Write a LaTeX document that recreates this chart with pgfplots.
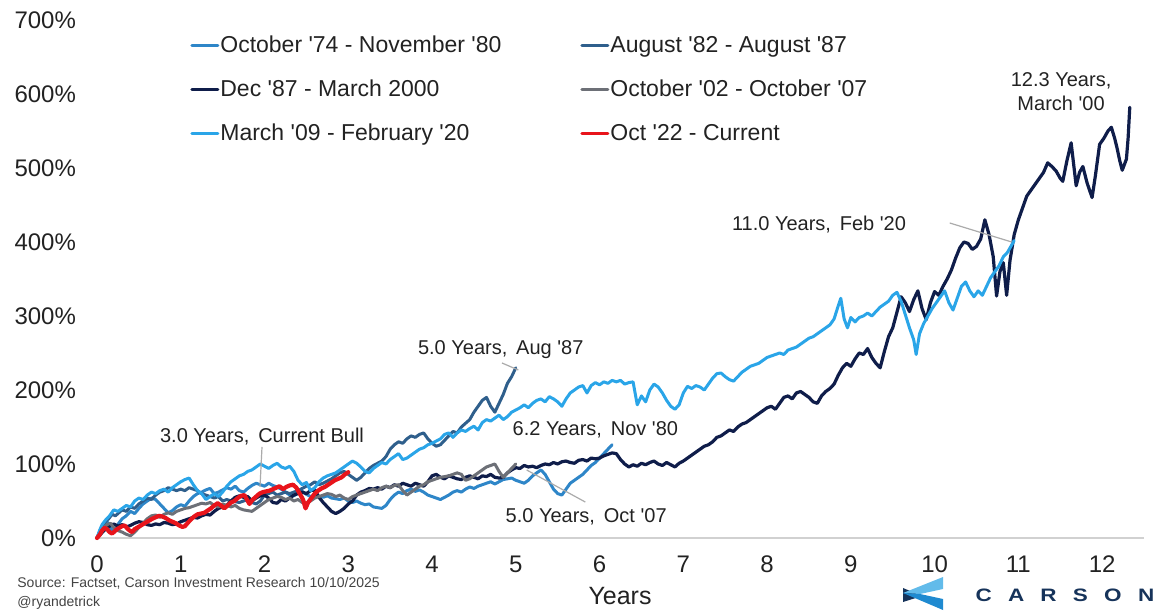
\documentclass[border=0pt]{standalone}
\usepackage{fontspec}
\setmainfont{Liberation Sans}
\usepackage{pgfplots}
\pgfplotsset{compat=1.18}
\definecolor{c74}{HTML}{2E86C8}
\definecolor{c82}{HTML}{2F5F8C}
\definecolor{c87}{HTML}{0F1D4A}
\definecolor{c02}{HTML}{6D7077}
\definecolor{c09}{HTML}{2AA5E8}
\definecolor{c22}{HTML}{E8141B}
\definecolor{leader}{HTML}{ABABAB}
\definecolor{txt}{HTML}{222222}
\definecolor{logoL}{HTML}{62BBEA}
\definecolor{logoM}{HTML}{1F8AD0}
\definecolor{logoD}{HTML}{16335A}
\newcommand\ls{\rule[-2.5pt]{0pt}{11pt}}
\newcommand\q{\textquotesingle}
\begin{document}
\begin{tikzpicture}
\useasboundingbox (-48.5pt,-36pt) rectangle (532pt,269pt);
\begin{axis}[
  at={(0,0)}, anchor=south west,
  scale only axis, width=523.5pt, height=259pt,
  xmin=0, xmax=12.5, ymin=0, ymax=700,
  axis x line=bottom, axis y line=left,
  axis line style={-},
  x axis line style={draw=black!18, line width=0.8pt},
  y axis line style={draw=none},
  xtick={0,1,...,12}, ytick={0,100,...,700},
  major tick length=0pt, tick style={draw=none},
  /pgf/number format/assume math mode=true,
  tick label style={font=\fontsize{12}{14}\selectfont, text=txt},
  yticklabel={\pgfmathprintnumber{\tick}\%},
  yticklabel style={xshift=-7pt},
  xticklabel style={yshift=-5.5pt},
  clip=false,
  legend columns=2,
  legend cell align=left,
  legend style={at={(0.0888,0.973)}, anchor=north west, draw=none, fill=none,
    inner sep=0pt, font=\fontsize{11.5}{13}\selectfont, text=txt,
    nodes={inner sep=0.5pt}, row sep=11pt,
    /tikz/every even column/.append style={column sep=39pt}},
  legend image code/.code={\draw[#1, line width=1.5pt] (0pt,0pt) -- (13pt,0pt);},
  every axis plot/.append style={line join=round, line cap=round},
]
% Oct '74 - Nov '80
\addplot[c74, line width=1.5pt] coordinates {(0,0)(0.04,10)(0.08,18)(0.12,22)(0.17,12)(0.21,8)(0.26,20)(0.3,26)(0.35,30)(0.4,36)(0.45,33)(0.5,40)(0.55,46)(0.6,50)(0.65,54)(0.7,52)(0.75,46)(0.8,40)(0.85,34)(0.9,37)(0.95,42)(1.0,45)(1.05,43)(1.1,50)(1.15,56)(1.2,60)(1.25,62)(1.3,65)(1.35,67)(1.4,60)(1.45,62)(1.5,65)(1.55,68)(1.6,66)(1.65,70)(1.7,64)(1.75,62)(1.8,67)(1.85,71)(1.9,74)(1.95,72)(2.0,70)(2.05,74)(2.1,71)(2.15,69)(2.2,66)(2.25,62)(2.3,58)(2.35,57)(2.4,61)(2.45,63)(2.5,59)(2.55,56)(2.6,58)(2.7,55)(2.75,57)(2.8,54)(2.9,52)(2.95,54)(3.0,50)(3.05,48)(3.1,50)(3.15,47)(3.2,45)(3.25,46)(3.3,42)(3.35,41)(3.4,40)(3.45,44)(3.5,52)(3.55,58)(3.6,62)(3.65,60)(3.7,64)(3.75,66)(3.8,63)(3.85,65)(3.9,62)(3.95,58)(4.0,56)(4.05,54)(4.1,52)(4.15,55)(4.2,58)(4.25,62)(4.3,64)(4.35,62)(4.4,66)(4.45,69)(4.5,67)(4.55,70)(4.6,72)(4.65,74)(4.7,76)(4.75,73)(4.8,76)(4.85,79)(4.9,80)(4.95,81)(5.0,78)(5.05,76)(5.1,74)(5.15,78)(5.2,84)(5.25,88)(5.3,92)(5.35,86)(5.4,76)(5.45,66)(5.5,60)(5.55,58)(5.6,66)(5.65,74)(5.7,78)(5.75,82)(5.8,86)(5.85,92)(5.9,98)(5.95,102)(6.0,108)(6.05,114)(6.1,120)(6.15,126)};
\addlegendentry{\ls October \q74 - November \q80}
% Aug '82 - Aug '87
\addplot[c82, line width=1.5pt] coordinates {(0,0)(0.03,8)(0.06,14)(0.1,22)(0.14,26)(0.18,32)(0.22,30)(0.26,34)(0.3,38)(0.35,36)(0.4,42)(0.45,40)(0.5,46)(0.55,50)(0.6,54)(0.65,52)(0.7,58)(0.75,62)(0.8,64)(0.85,68)(0.9,66)(0.95,64)(1.0,66)(1.05,64)(1.1,68)(1.15,66)(1.2,64)(1.25,60)(1.3,58)(1.35,56)(1.4,54)(1.45,56)(1.5,50)(1.55,52)(1.6,50)(1.7,48)(1.8,52)(1.85,48)(1.9,46)(1.95,50)(2.0,58)(2.05,60)(2.1,62)(2.15,58)(2.2,60)(2.25,62)(2.3,60)(2.4,64)(2.5,70)(2.55,72)(2.6,76)(2.65,72)(2.7,74)(2.8,80)(2.85,84)(2.9,88)(2.95,90)(3.0,86)(3.05,82)(3.1,78)(3.15,82)(3.2,88)(3.25,94)(3.3,98)(3.35,101)(3.4,104)(3.45,110)(3.5,120)(3.55,126)(3.6,130)(3.65,128)(3.7,134)(3.75,138)(3.8,136)(3.85,140)(3.9,142)(3.95,134)(4.0,128)(4.05,124)(4.1,126)(4.15,132)(4.2,138)(4.25,144)(4.3,142)(4.35,150)(4.4,155)(4.45,160)(4.5,170)(4.55,178)(4.6,186)(4.65,190)(4.7,178)(4.75,170)(4.8,182)(4.85,194)(4.9,209)(4.95,218)(5.0,230)};
\addlegendentry{\ls August \q82 - August \q87}
% Dec '87 - Mar 2000
\addplot[c87, line width=1.6pt] coordinates {(0,0)(0.05,6)(0.1,12)(0.15,16)(0.2,19)(0.25,16)(0.3,18)(0.35,15)(0.4,17)(0.45,20)(0.5,22)(0.55,21)(0.6,18)(0.65,17)(0.7,19)(0.75,18)(0.8,21)(0.85,20)(0.9,18)(0.95,19)(1.0,22)(1.05,24)(1.1,26)(1.15,28)(1.2,27)(1.25,30)(1.3,32)(1.35,31)(1.4,36)(1.45,40)(1.5,42)(1.55,44)(1.6,50)(1.65,55)(1.7,57)(1.75,55)(1.8,56)(1.85,50)(1.9,54)(1.95,57)(2.0,58)(2.05,54)(2.1,48)(2.15,47)(2.2,52)(2.25,50)(2.3,54)(2.35,58)(2.4,60)(2.45,62)(2.5,60)(2.55,64)(2.6,65)(2.65,55)(2.7,48)(2.75,42)(2.8,36)(2.85,33)(2.9,36)(2.95,40)(3.0,46)(3.05,50)(3.1,58)(3.15,62)(3.2,64)(3.25,67)(3.3,66)(3.35,68)(3.4,66)(3.45,70)(3.5,68)(3.55,72)(3.6,70)(3.65,74)(3.7,72)(3.75,70)(3.8,74)(3.85,72)(3.9,70)(3.95,76)(4.0,84)(4.05,86)(4.1,82)(4.15,80)(4.2,84)(4.25,82)(4.3,80)(4.35,79)(4.4,82)(4.45,84)(4.5,82)(4.55,80)(4.6,84)(4.65,83)(4.7,86)(4.75,82)(4.8,81)(4.85,82)(4.9,88)(4.95,92)(5.0,95)(5.05,94)(5.1,98)(5.15,96)(5.2,97)(5.25,95)(5.3,98)(5.35,100)(5.4,99)(5.45,102)(5.5,100)(5.55,103)(5.6,104)(5.65,102)(5.7,101)(5.75,105)(5.8,106)(5.85,104)(5.9,108)(5.95,107)(6.0,108)(6.05,111)(6.1,113)(6.15,115)(6.2,114)(6.25,106)(6.3,100)(6.35,96)(6.4,99)(6.45,97)(6.5,101)(6.55,99)(6.6,102)(6.65,104)(6.7,100)(6.75,98)(6.8,102)(6.85,99)(6.9,96)(6.95,101)(7.0,104)(7.05,108)(7.1,112)(7.15,116)(7.2,120)(7.25,124)(7.3,126)(7.35,130)(7.4,136)(7.45,138)(7.5,142)(7.55,146)(7.6,144)(7.65,150)(7.7,154)(7.75,156)(7.8,160)(7.85,164)(7.9,168)(7.95,172)(8.0,176)(8.05,178)(8.1,174)(8.15,182)(8.2,190)(8.25,192)(8.3,188)(8.35,196)(8.4,198)(8.45,194)(8.5,190)(8.55,184)(8.6,182)(8.65,192)(8.7,198)(8.75,202)(8.8,208)(8.85,220)(8.9,230)(8.95,236)(9.0,232)(9.05,242)(9.1,250)(9.15,248)(9.2,256)(9.25,244)(9.3,236)(9.35,230)(9.4,252)(9.45,272)(9.5,284)(9.55,305)(9.6,326)(9.65,318)(9.7,306)(9.75,322)(9.8,334)(9.85,310)(9.9,295)(9.95,318)(10.0,333)(10.05,328)(10.1,340)(10.15,350)(10.2,362)(10.25,378)(10.3,392)(10.35,400)(10.4,398)(10.45,390)(10.5,394)(10.55,404)(10.6,430)(10.65,410)(10.7,380)(10.74,327)(10.78,360)(10.82,372)(10.86,328)(10.9,375)(10.95,410)(11.0,430)(11.05,446)(11.1,462)(11.15,470)(11.2,478)(11.25,486)(11.3,494)(11.35,507)(11.4,502)(11.45,496)(11.5,486)(11.53,482)(11.58,510)(11.63,534)(11.66,505)(11.69,476)(11.73,494)(11.77,502)(11.82,480)(11.88,460)(11.92,490)(11.97,532)(12.02,540)(12.07,550)(12.11,555)(12.15,540)(12.18,526)(12.21,510)(12.24,497)(12.27,506)(12.29,512)(12.31,540)(12.33,582)};
\addlegendentry{\ls Dec \q87 - March 2000}
% Oct '02 - Oct '07
\addplot[c02, line width=1.5pt] coordinates {(0,0)(0.04,8)(0.08,14)(0.12,18)(0.16,20)(0.2,14)(0.25,10)(0.3,8)(0.35,5)(0.4,3)(0.45,8)(0.5,14)(0.55,20)(0.6,26)(0.65,30)(0.7,31)(0.75,28)(0.8,32)(0.85,34)(0.9,32)(0.95,36)(1.0,38)(1.05,40)(1.1,41)(1.15,43)(1.2,45)(1.25,47)(1.3,46)(1.35,48)(1.4,44)(1.45,42)(1.5,46)(1.55,44)(1.6,42)(1.65,44)(1.7,40)(1.75,38)(1.8,37)(1.85,36)(1.9,40)(1.95,44)(2.0,48)(2.05,52)(2.1,54)(2.15,56)(2.2,55)(2.25,52)(2.3,54)(2.35,50)(2.4,52)(2.45,48)(2.5,47)(2.55,50)(2.6,54)(2.65,56)(2.7,58)(2.75,60)(2.8,59)(2.85,56)(2.9,58)(2.95,54)(3.0,52)(3.05,56)(3.1,58)(3.15,60)(3.2,62)(3.25,64)(3.3,66)(3.35,64)(3.4,68)(3.45,70)(3.5,68)(3.55,71)(3.6,72)(3.65,64)(3.7,58)(3.75,62)(3.8,66)(3.85,70)(3.9,72)(3.95,76)(4.0,78)(4.05,80)(4.1,82)(4.15,83)(4.2,84)(4.25,86)(4.3,88)(4.35,86)(4.4,78)(4.45,80)(4.5,84)(4.55,88)(4.6,92)(4.65,96)(4.7,98)(4.75,100)(4.8,90)(4.85,82)(4.9,88)(4.95,94)(5.0,100)};
\addlegendentry{\ls October \q02 - October \q07}
% Mar '09 - Feb '20
\addplot[c09, line width=1.5pt] coordinates {(0,0)(0.03,10)(0.06,18)(0.1,24)(0.15,30)(0.2,38)(0.25,36)(0.3,40)(0.35,44)(0.4,42)(0.45,50)(0.5,54)(0.55,52)(0.6,58)(0.65,62)(0.7,60)(0.75,64)(0.8,66)(0.85,62)(0.9,68)(0.95,72)(1.0,76)(1.05,79)(1.1,81)(1.15,72)(1.2,64)(1.25,60)(1.3,52)(1.35,56)(1.4,60)(1.45,56)(1.5,62)(1.55,70)(1.6,76)(1.65,80)(1.7,84)(1.75,86)(1.8,90)(1.85,92)(1.9,96)(1.95,100)(2.0,97)(2.05,94)(2.1,98)(2.15,101)(2.2,96)(2.25,94)(2.3,97)(2.35,90)(2.4,78)(2.45,72)(2.5,75)(2.55,64)(2.6,68)(2.65,76)(2.7,81)(2.75,84)(2.8,86)(2.85,88)(2.9,92)(2.95,96)(3.0,100)(3.05,104)(3.1,101)(3.15,96)(3.2,90)(3.25,88)(3.3,94)(3.35,98)(3.4,102)(3.45,100)(3.5,106)(3.55,110)(3.6,114)(3.65,106)(3.7,108)(3.75,112)(3.8,116)(3.85,120)(3.9,122)(3.95,126)(4.0,128)(4.05,131)(4.1,134)(4.15,140)(4.2,142)(4.25,136)(4.3,142)(4.35,146)(4.4,144)(4.45,148)(4.5,151)(4.55,146)(4.6,156)(4.65,160)(4.7,158)(4.75,162)(4.8,166)(4.85,160)(4.9,164)(4.95,170)(5.0,173)(5.05,176)(5.1,180)(5.15,176)(5.2,182)(5.25,186)(5.3,188)(5.35,184)(5.4,191)(5.45,188)(5.5,184)(5.55,178)(5.6,188)(5.65,196)(5.7,200)(5.75,204)(5.8,206)(5.85,196)(5.9,206)(5.95,210)(6.0,207)(6.05,211)(6.1,209)(6.15,213)(6.2,211)(6.25,213)(6.3,208)(6.35,210)(6.4,211)(6.45,180)(6.5,192)(6.55,184)(6.6,200)(6.65,208)(6.7,204)(6.75,196)(6.8,186)(6.85,178)(6.9,174)(6.95,180)(7.0,196)(7.05,205)(7.1,202)(7.15,206)(7.2,204)(7.25,200)(7.3,208)(7.35,216)(7.4,222)(7.45,223)(7.5,218)(7.55,214)(7.6,212)(7.65,218)(7.7,224)(7.75,228)(7.8,232)(7.85,234)(7.9,236)(7.95,240)(8.0,244)(8.05,246)(8.1,248)(8.15,250)(8.2,248)(8.25,254)(8.3,256)(8.35,258)(8.4,262)(8.45,266)(8.5,270)(8.55,272)(8.6,276)(8.65,280)(8.7,284)(8.75,288)(8.8,296)(8.85,314)(8.88,324)(8.92,296)(8.96,284)(9.0,298)(9.05,292)(9.1,298)(9.15,300)(9.2,304)(9.25,300)(9.3,306)(9.35,312)(9.4,316)(9.45,320)(9.5,328)(9.55,332)(9.6,320)(9.65,302)(9.7,284)(9.75,268)(9.78,248)(9.82,276)(9.87,290)(9.92,300)(9.97,310)(10.02,318)(10.07,326)(10.12,334)(10.17,318)(10.22,308)(10.27,324)(10.32,340)(10.37,346)(10.42,334)(10.47,326)(10.52,334)(10.57,328)(10.62,340)(10.67,352)(10.72,360)(10.77,368)(10.82,380)(10.87,386)(10.92,396)(10.95,402)};
\addlegendentry{\ls March \q09 - February \q20}
% Oct '22 - Current
\addplot[c22, line width=2.1pt] coordinates {(0,0)(0.03,4)(0.06,10)(0.09,14)(0.12,12)(0.15,8)(0.18,6)(0.21,9)(0.24,12)(0.27,14)(0.3,16)(0.33,17)(0.36,13)(0.39,10)(0.42,8)(0.45,12)(0.48,14)(0.51,16)(0.54,18)(0.57,20)(0.6,22)(0.63,24)(0.66,26)(0.7,28)(0.74,30)(0.78,29)(0.82,27)(0.86,24)(0.9,22)(0.94,20)(0.98,17)(1.02,15)(1.05,16)(1.08,20)(1.12,25)(1.16,29)(1.2,32)(1.24,33)(1.28,34)(1.32,37)(1.36,40)(1.4,44)(1.44,47)(1.48,44)(1.52,40)(1.56,44)(1.6,48)(1.64,50)(1.68,54)(1.72,57)(1.76,58)(1.8,50)(1.82,46)(1.86,52)(1.9,56)(1.94,60)(1.98,62)(2.02,63)(2.06,64)(2.1,66)(2.14,68)(2.18,70)(2.22,66)(2.26,69)(2.3,71)(2.34,72)(2.38,68)(2.42,60)(2.46,52)(2.49,40)(2.52,48)(2.56,54)(2.6,60)(2.64,64)(2.68,67)(2.72,69)(2.76,72)(2.8,75)(2.84,78)(2.88,80)(2.92,82)(2.96,86)(3.0,89)};
\addlegendentry{\ls Oct \q22 - Current}
% annotations
\begin{scope}[font=\fontsize{10}{12}\selectfont, text=txt]
\node[align=center] at (axis cs:11.51,602.7) {12.3 Years,\\March \q00};
\node at (axis cs:8.62,423) {11.0 Years,\, Feb \q20};
\node at (axis cs:4.82,254) {5.0 Years,\, Aug \q87};
\node at (axis cs:5.95,146) {6.2 Years,\, Nov \q80};
\node at (axis cs:5.84,28.4) {5.0 Years,\, Oct \q07};
\node at (axis cs:1.97,136.5) {3.0 Years,\, Current Bull};
\end{scope}
\draw[leader, line width=0.6pt] (axis cs:10.18,425.7) -- (axis cs:10.92,400);
\draw[leader, line width=0.6pt] (axis cs:4.835,236.5) -- (axis cs:5.03,227);
\draw[leader, line width=0.6pt] (axis cs:5.83,48.6) -- (axis cs:5.13,91.9);
\draw[leader, line width=0.6pt] (axis cs:1.97,123) -- (axis cs:1.946,69);
\end{axis}
% axis title and footer
\node[text=txt, font=\fontsize{12.5}{14}\selectfont] at (261.5pt,-29pt) {Years};
\node[anchor=west, inner sep=0pt, text=txt!85, font=\fontsize{7}{8}\selectfont] at (-40pt,-22.5pt) {Source: Factset, Carson Investment Research 10/10/2025};
\node[anchor=west, inner sep=0pt, text=txt!85, font=\fontsize{7}{8}\selectfont] at (-40pt,-32.5pt) {@ryandetrick};
% logo
\fill[logoD] (403pt,-25pt) -- (412.5pt,-29pt) -- (403pt,-32pt) -- cycle;
\fill[logoL] (403pt,-27.5pt) -- (423pt,-19.5pt) -- (423pt,-25.5pt) -- (411.5pt,-28pt) -- cycle;
\fill[logoM] (403pt,-27.5pt) -- (411.5pt,-28pt) -- (423pt,-30.5pt) -- (423pt,-36pt) -- cycle;
\node[anchor=west, inner sep=0pt, text=logoD, font=\bfseries\fontsize{9}{10}\selectfont, xscale=1.25] at (439pt,-28.5pt) {C\hspace{6.5pt}A\hspace{6.5pt}R\hspace{6.5pt}S\hspace{6.5pt}O\hspace{6.5pt}N};
\end{tikzpicture}
\end{document}
